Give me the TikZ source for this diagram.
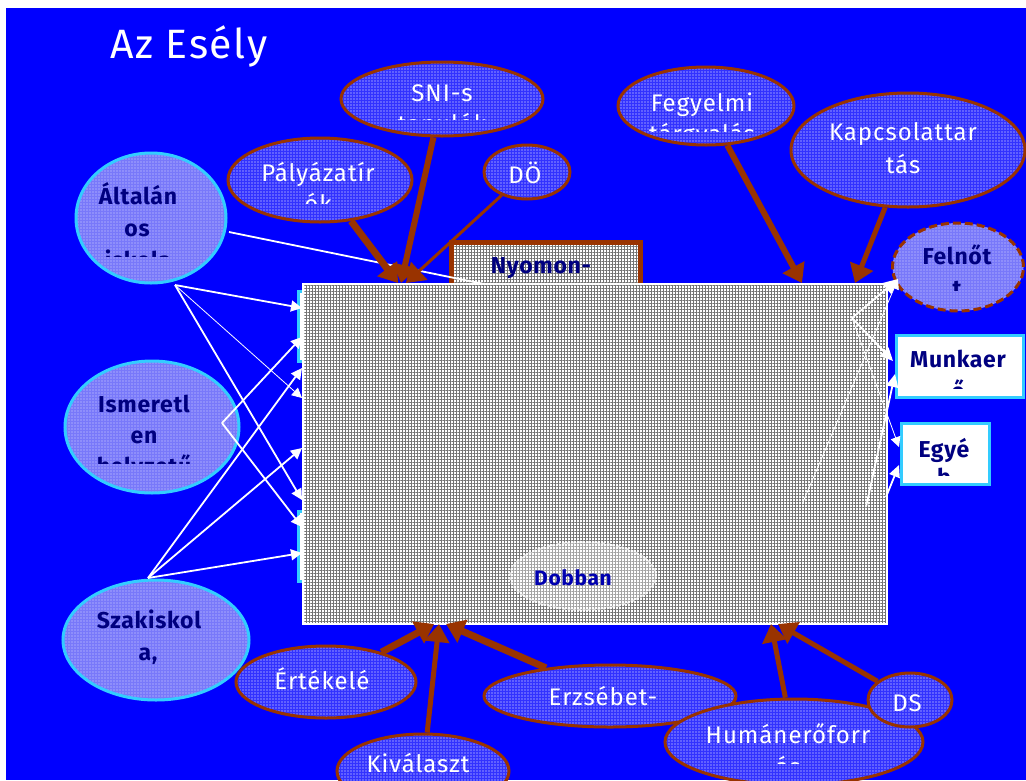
\documentclass[tikz,border=0pt]{standalone}
\usepackage{fontspec}
\setmainfont{Fira Sans}
\newfontfamily\wfont[LetterSpace=4]{Fira Sans}
\newfontfamily\nfont[LetterSpace=3]{Fira Sans}
\usetikzlibrary{shapes.geometric,arrows.meta,patterns.meta}
\definecolor{bgblue}{RGB}{0,0,255}
\definecolor{brn}{RGB}{153,51,0}
\definecolor{cyb}{RGB}{51,204,255}
\definecolor{navy}{RGB}{0,0,128}
\definecolor{dobblue}{RGB}{0,0,176}
\definecolor{bellfill}{RGB}{50,50,255}
\definecolor{cellfill}{RGB}{120,120,250}
\begin{document}
\begin{tikzpicture}[x=1pt,y=-1pt,
  brownell/.style={ellipse, draw=brn, line width=3pt, inner sep=0pt, preaction={fill=bellfill}, pattern={Dots[distance=3pt,radius=0.6pt]}, pattern color=white},
  cyanell/.style={ellipse, draw=cyb, line width=3pt, inner sep=0pt, preaction={fill=cellfill}, pattern={Dots[distance=3pt,radius=0.7pt]}, pattern color=white!85!bgblue},
  felell/.style={ellipse, draw=brn, line width=3pt, dash pattern=on 8pt off 4pt, inner sep=0pt, preaction={fill=cellfill}, pattern={Dots[distance=3pt,radius=0.7pt]}, pattern color=white!85!bgblue},
  grayfill/.style={preaction={fill=white}, pattern={Hatch[angle=0,distance=3pt,line width=0.8pt]}, pattern color=black!55},
  mainrect/.style={rectangle, grayfill, draw=white, line width=2pt, inner sep=0pt, anchor=north west},
  nyobox/.style={rectangle, grayfill, draw=brn, line width=5pt, inner sep=0pt, anchor=north west},
  wbox/.style={rectangle, fill=white, draw=cyb, line width=3pt, inner sep=0pt, anchor=north west},
  wtxt/.style={text=white, font=\wfont\fontsize{24}{27}\selectfont, inner sep=0pt, anchor=base},
  btxt/.style={text=navy, font=\nfont\bfseries\fontsize{23}{26}\selectfont, inner sep=0pt, anchor=base},
  war/.style={draw=white, line width=1.8pt, -{Triangle[length=11pt,width=11pt]}},
  warthin/.style={draw=white, line width=0.8pt, -{Triangle[length=10pt,width=10pt]}},
  brar/.style={draw=brn, line width=6pt, -{Triangle[length=18pt,width=24pt]}},
]
\useasboundingbox (0,0) rectangle (1026,780);
\fill[white] (0,0) rectangle (1026,780);
\fill[bgblue] (6,8) rectangle (1026,780);

% title
\node[anchor=base west, text=white, inner sep=0pt, font=\wfont\fontsize{41}{43}\selectfont] (title) at (110,58) {Az Esély};

% ellipses
\node[brownell, minimum width=202pt, minimum height=74pt] (sni) at (442,99) {};
\node[brownell, minimum width=184pt, minimum height=84pt] (pal) at (320,180) {};
\node[brownell, minimum width=86pt, minimum height=54pt] (do) at (527,172) {};
\node[brownell, minimum width=176pt, minimum height=78pt] (feg) at (706,106) {};
\node[brownell, minimum width=234pt, minimum height=114pt] (kap) at (908,150) {};
\node[felell, minimum width=131pt, minimum height=88pt] (fel) at (958,267) {};
\node[cyanell, minimum width=150pt, minimum height=130pt] (alt) at (151,218) {};
\node[cyanell, minimum width=174pt, minimum height=132pt] (ism) at (152,427) {};
\node[cyanell, minimum width=186pt, minimum height=120pt] (sza) at (156,640) {};
\node[brownell, minimum width=180pt, minimum height=72pt] (ert) at (326,682) {};
\node[brownell, minimum width=172pt, minimum height=74pt] (kiv) at (423,771) {};
\node[brownell, minimum width=252pt, minimum height=62pt] (erz) at (610,696) {};
\node[brownell, minimum width=258pt, minimum height=86pt] (hum) at (794,742) {};
\node[brownell, minimum width=84pt, minimum height=54pt] (ds) at (910,700) {};

% right boxes
\node[wbox, minimum width=127pt, minimum height=62pt] (mun) at (895,334) {};
\node[wbox, minimum width=88pt, minimum height=61pt] (egy) at (900,422) {};

% hidden boxes behind the main rectangle
\node[wbox, minimum width=34pt, minimum height=70pt] (hb1) at (297,290) {};
\node[wbox, minimum width=34pt, minimum height=70pt] (hb2) at (297,510) {};

% Nyomon box
\node[nyobox, minimum width=189pt, minimum height=44pt] (nyo) at (449,240) {};

% line from Altalanos to the box (under main rect)
\coordinate (aR) at (229,232);
\coordinate (nyoIn) at (484,284);
\draw[white, line width=1.8pt] (aR) -- (nyoIn);

% main rectangle
\node[mainrect, minimum width=584pt, minimum height=340pt] (main) at (302,283) {};

% Dobban cloud
\node[ellipse, minimum width=146pt, minimum height=68pt, fill=white, fill opacity=0.35, draw=white, draw opacity=0.6, line width=2pt, dash pattern=on 3pt off 2pt] (dob) at (583,576) {};

% left white arrows
\coordinate (aP) at (175,285);
\coordinate (iP) at (222,423);
\coordinate (sP) at (148,578);
\coordinate (l1) at (302,308);
\coordinate (l2) at (302,337);
\coordinate (l3) at (302,368);
\coordinate (l4) at (302,398);
\coordinate (l5) at (302,448);
\coordinate (l6) at (302,500);
\coordinate (l7) at (302,527);
\coordinate (l8) at (302,553);
\draw[war] (aP) -- (l1);
\draw[warthin] (aP) -- (l4);
\draw[war] (aP) -- (l6);
\draw[war] (iP) -- (l2);
\draw[war] (iP) -- (l7);
\draw[war] (sP) -- (l3);
\draw[war] (sP) -- (l5);
\draw[war] (sP) -- (l8);

% right white arrows
\coordinate (rP) at (852,318);
\coordinate (rQ) at (803,502);
\coordinate (rS) at (866,507);
\coordinate (rT) at (886,497);
\coordinate (fT) at (898,279);
\coordinate (mT1) at (893,361);
\coordinate (mT2) at (895,374);
\coordinate (eT1) at (899,447);
\coordinate (eT2) at (899,465);
\draw[war, -{Triangle[length=15pt,width=14pt]}] (rP) -- (fT);
\draw[warthin] (rQ) -- (fT);
\draw[war, -{Triangle[length=13pt,width=12pt]}] (rP) -- (mT1);
\draw[war, -{Triangle[length=13pt,width=12pt]}] (rS) -- (mT2);
\draw[warthin] (rP) -- (eT1);
\draw[war, -{Triangle[length=12pt,width=11pt]}] (rT) -- (eT2);

% brown arrows top
\coordinate (tPal) at (398,283);
\coordinate (tSni) at (401,283);
\coordinate (tDo) at (406,283);
\coordinate (tFeg) at (802,283);
\coordinate (tKap) at (855,283);
\draw[brar, line width=7pt] (pal) -- (tPal);
\draw[brar] (sni) -- (tSni);
\draw[brar, line width=3pt] (do) -- (tDo);
\draw[brar] (feg) -- (tFeg);
\draw[brar, line width=5pt] (kap) -- (tKap);

% brown arrows bottom
\coordinate (bErt) at (434,624);
\coordinate (bKiv) at (439,624);
\coordinate (bErz) at (446,624);
\coordinate (bHum) at (771,624);
\coordinate (bDs) at (778,624);
\draw[brar, line width=7pt] (ert) -- (bErt);
\draw[brar, line width=5pt] (kiv) -- (bKiv);
\draw[brar, line width=7pt] (erz) -- (bErz);
\draw[brar, line width=5pt] (hum) -- (bHum);
\draw[brar, line width=5pt] (ds) -- (bDs);

% texts in brown ellipses
\node[wtxt] (sniA) at (442,101) {SNI-s};
\begin{scope}\clip (330,60) rectangle (560,119);
\node[wtxt] (sniB) at (442,132) {tanulók};\end{scope}
\node[wtxt] (palA) at (318,181) {Pályázatír};
\begin{scope}\clip (220,140) rectangle (420,203);
\node[wtxt] (palB) at (318,212) {ók};\end{scope}
\node[wtxt] (doA) at (525,183) {DÖ};
\node[wtxt] (fegA) at (702,111) {Fegyelmi};
\begin{scope}\clip (610,60) rectangle (800,131);
\node[wtxt] (fegB) at (702,142) {tárgyalás};\end{scope}
\node[wtxt] (kapA) at (903,140) {Kapcsolattar};
\node[wtxt] (kapB) at (903,173) {tás};
\node[wtxt] (humA) at (788,743) {Humánerőforr};
\begin{scope}\clip (660,700) rectangle (930,763);
\node[wtxt] (humB) at (788,775) {ás};\end{scope}
\node[wtxt] (dsA) at (907,711) {DS};
\node[wtxt] (erzA) at (603,705) {Erzsébet-};
\node[wtxt] (ertA) at (322,689) {Értékelé};
\node[wtxt] (kivA) at (418,772) {Kiválaszt};

% texts in cyan ellipses and boxes
\node[btxt] (altA) at (138,204) {Általán};
\node[btxt] (altB) at (137,236) {os};
\begin{scope}\clip (70,240) rectangle (230,256);
\node[btxt] (altC) at (138,268) {iskola};\end{scope}
\node[btxt] (ismA) at (144,412) {Ismeretl};
\node[btxt] (ismB) at (144,443) {en};
\begin{scope}\clip (60,450) rectangle (240,463);
\node[btxt] (ismC) at (144,474) {helyzetű};\end{scope}
\node[btxt] (szaA) at (149,628) {Szakiskol};
\node[btxt] (szaB) at (148,660) {a,};
\node[btxt] (felA) at (957,264) {Felnőt};
\begin{scope}\clip (890,270) rectangle (1026,290);
\node[btxt] (felB) at (957,296) {t};\end{scope}
\node[btxt] (munA) at (958,367) {Munkaer};
\begin{scope}\clip (897,370) rectangle (1020,388);
\node[btxt] (munB) at (958,399) {ő};\end{scope}
\node[btxt] (egyA) at (944,457) {Egyé};
\begin{scope}\clip (902,462) rectangle (986,475);
\node[btxt] (egyB) at (944,485) {b};\end{scope}
\node[btxt] (nyoA) at (541,273) {Nyomon-};
\node[btxt, text=dobblue, font=\nfont\bfseries\fontsize{21}{24}\selectfont] (dobA) at (573,585) {Dobban};
\end{tikzpicture}
\end{document}
